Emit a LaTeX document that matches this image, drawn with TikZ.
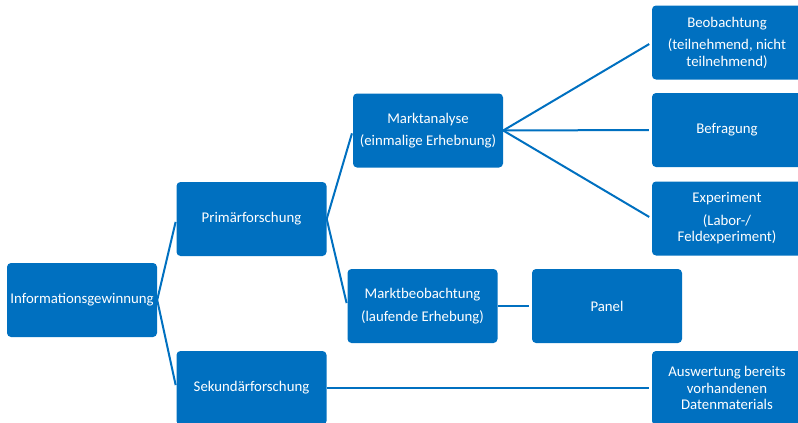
\documentclass[tikz,border=0pt]{standalone}
\usepackage{fontspec}
\setmainfont{Carlito}
\usepackage{tikz}
\usetikzlibrary{positioning}
\definecolor{boxblue}{RGB}{0,112,192}
\tikzset{
  box/.style={
    rectangle, rounded corners=4pt, fill=boxblue, draw=none, text=white,
    minimum width=150pt, minimum height=74pt, inner sep=2pt, align=center,
    font=\fontsize{14.8}{16.5}\selectfont
  },
  link/.style={draw=boxblue, line width=2pt, shorten >=3pt},
}

\begin{document}
\begin{tikzpicture}[x=1pt, y=-1pt]
  \useasboundingbox (0,0) rectangle (798,423);
  \clip (0,0) rectangle (798,423);

  % Level 1
  \node[box] (info) at (82,300) {Informationsgewinnung};

  % Level 2
  \node[box] (primaer) at (251.5,219) {Primärforschung};
  \node[box] (sekundaer) at (251.5,388) {Sekundärforschung};

  % Level 3
  \node[box] (analyse) at (428,130.5) {Marktanalyse\\[6pt](einmalige Erhebnung)};
  \node[box] (marktbeob) at (422.5,306) {Marktbeobachtung\\[6pt](laufende Erhebung)};

  % Level 4
  \node[box] (beob) at (727,42.5) {Beobachtung\\[6pt](teilnehmend, nicht\\teilnehmend)};
  \node[box] (befr) at (727,130) {Befragung};
  \node[box] (exper) at (727,218.5) {Experiment\\[6pt](Labor-/\\Feldexperiment)};
  \node[box] (panel) at (607,306) {Panel};
  \node[box] (auswert) at (727,388) {Auswertung bereits\\vorhandenen\\Datenmaterials};

  % Connectors
  \draw[link] (info.east) -- (primaer.west);
  \draw[link] (info.east) -- (sekundaer.west);
  \draw[link] (primaer.east) -- (analyse.west);
  \draw[link] (primaer.east) -- (marktbeob.west);
  \draw[link] (analyse.east) -- (beob.west);
  \draw[link] (analyse.east) -- (befr.west);
  \draw[link] (analyse.east) -- (exper.west);
  \draw[link] (marktbeob.east) -- (panel.west);
  \draw[link] (sekundaer.east) -- (auswert.west);

\end{tikzpicture}
\end{document}
